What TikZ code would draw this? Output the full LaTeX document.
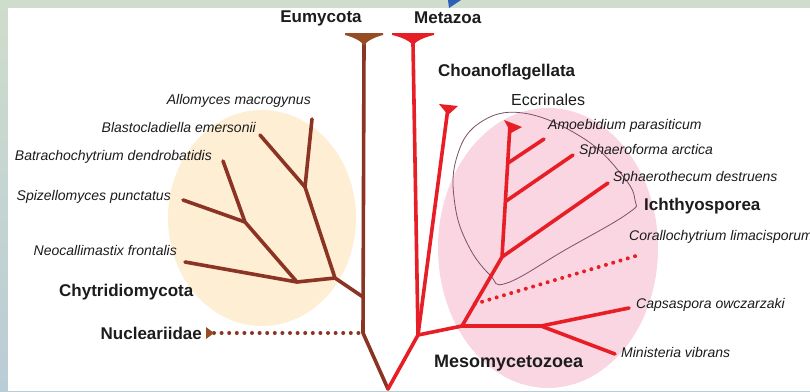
\documentclass[tikz,border=0pt]{standalone}
\usepackage{fontspec}
\setmainfont{Liberation Sans}
\usetikzlibrary{calc}

\definecolor{fungibrown}{RGB}{139,52,36}
\definecolor{headbrown}{RGB}{152,76,36}
\definecolor{holored}{RGB}{232,30,38}
\definecolor{chytfill}{RGB}{253,238,212}
\definecolor{mesofill}{RGB}{249,214,225}
\definecolor{ichthline}{RGB}{125,80,105}
\definecolor{labelgray}{RGB}{28,28,28}
\definecolor{frametop}{RGB}{207,221,204}
\definecolor{framebot}{RGB}{186,204,214}
\definecolor{slideblue}{RGB}{45,95,185}

\begin{document}
\begin{tikzpicture}[x=1pt, y=-1pt,
  fungi/.style={draw=fungibrown, line width=3.6pt, line cap=round, line join=round},
  holo/.style={draw=holored, line width=3.6pt, line cap=round, line join=round},
  dotline/.style={line width=4pt, line cap=round, dash pattern=on 0pt off 7.6pt},
  taxon/.style={font=\itshape\fontsize{14}{16}\selectfont, text=labelgray, inner sep=1pt},
  clade/.style={font=\bfseries\fontsize{17}{19}\selectfont, text=labelgray, inner sep=1pt}]
  \useasboundingbox (0,0) rectangle (810,391);
  \clip (0,0) rectangle (810,391);
  % slide frame
  \shade[top color=frametop, bottom color=framebot] (0,0) rectangle (810,391);
  \fill[white] (8,8) rectangle (810,391);
  \fill[slideblue] (448,0) -- (461,0) -- (449,8) -- cycle;
  % clade backgrounds
  \fill[chytfill] (262,218) ellipse [x radius=94, y radius=108];
  \fill[mesofill] (548,248) ellipse [x radius=110, y radius=140];
  \draw[ichthline, line width=0.8pt] plot[smooth cycle, tension=0.7] coordinates
    {(523,113) (583,138) (622,175) (635,200) (627,214) (565,250)
     (507,283) (490,275) (468,245) (455,205) (456,160) (478,124)};
  % fungal side
  \coordinate (root) at (388,389);
  \coordinate (q) at (363,333);
  \coordinate (eu) at (364,33);
  \coordinate (eutop) at (364,44);
  \coordinate (fj) at (363,297);
  \coordinate (a) at (335,278);
  \coordinate (b) at (305,187);
  \coordinate (c) at (297,282);
  \coordinate (d) at (245,222);
  \coordinate (allo) at (312,119);
  \coordinate (blast) at (260,135);
  \coordinate (batr) at (223,161);
  \coordinate (spiz) at (183,200);
  \coordinate (neoc) at (185,262);
  \coordinate (nuc) at (214,333);
  \draw[fungi] (root) -- (q) -- (eutop);
  \draw[fungi] (fj) -- (a) -- (b) -- (allo);
  \draw[fungi] (b) -- (blast);
  \draw[fungi] (a) -- (c) -- (neoc);
  \draw[fungi] (c) -- (d) -- (batr);
  \draw[fungi] (d) -- (spiz);
  \draw[fungibrown, dotline] (nuc) -- (q);
  \fill[headbrown] (eu) ++(-19,0) -- ++(38,0) -- ++(0,2) .. controls +(-8,2) and +(2,-5) .. ++(-19,11)
    .. controls +(-2,-5) and +(8,2) .. ++(-19,-11) -- cycle;
  \fill[headbrown] (nuc) ++(-8,-6) -- ++(0,12) -- ++(8,-6) -- cycle;
  % holozoan side
  \coordinate (j1) at (418,335);
  \coordinate (meta) at (413,33);
  \coordinate (metatop) at (413,44);
  \coordinate (choa) at (448,108);
  \coordinate (j2) at (462,326);
  \coordinate (j3) at (541,326);
  \coordinate (j4) at (502,257);
  \coordinate (ecc) at (510,125);
  \coordinate (k1) at ($(j4)!0.42!(ecc)$);
  \coordinate (k2) at ($(j4)!0.71!(ecc)$);
  \coordinate (amoe) at (544,139);
  \coordinate (sphf) at (573,155);
  \coordinate (spht) at (608,183);
  \coordinate (caps) at (629,308);
  \coordinate (mini) at (615,354);
  \coordinate (cor0) at ($(j2)!0.32!(j4)$);
  \coordinate (cor1) at (639,255);
  \draw[holo] (root) -- (j1) -- (metatop);
  \draw[holo] (j1) -- (choa);
  \draw[holo] (j1) -- (j2) -- (j3) -- (caps);
  \draw[holo] (j3) -- (mini);
  \draw[holo] (j2) -- (j4) -- (ecc);
  \draw[holo] (j4) -- (spht);
  \draw[holo] (k1) -- (sphf);
  \draw[holo] (k2) -- (amoe);
  \draw[holored, dotline] (cor0) -- (cor1);
  \fill[holored] (meta) ++(-21,0) -- ++(42,0) -- ++(0,2) .. controls +(-9,2) and +(2,-5) .. ++(-21,11)
    .. controls +(-2,-5) and +(9,2) .. ++(-21,-11) -- cycle;
  \fill[holored] (choa) ++(-9,-4) -- ++(19,2) -- ++(-10,9) -- cycle;
  \fill[holored] (ecc) ++(-6,-5) -- ++(18,7) -- ++(-11,6) -- cycle;
  % group labels
  \node[clade] (eumy) at (321,18) {Eumycota};
  \node[clade, anchor=west] (metz) at (413,18) {Metazoa};
  \node[clade, anchor=west] (choan) at (437,72) {Choanoflagellata};
  \node[clade, anchor=west] (chyt) at (58,292) {Chytridiomycota};
  \node[clade, anchor=east] (nucl) at (203,333) {Nucleariidae};
  \node[clade, anchor=west] (ichth) at (643,206) {Ichthyosporea};
  \node[clade, anchor=west, font=\bfseries\fontsize{18}{20}\selectfont] (meso) at (433,363) {Mesomycetozoea};
  \node[anchor=west, text=labelgray, font=\fontsize{16}{18}\selectfont, inner sep=1pt] (eccr) at (510,100) {Eccrinales};
  % species labels, fungal side
  \foreach \nm/\x/\y/\txt in {allol/312/101/Allomyces macrogynus,
      blastl/257/127/Blastocladiella emersonii,
      batrl/213/157/Batrachochytrium dendrobatidis,
      spizl/172/197/Spizellomyces punctatus,
      neocl/178/250/Neocallimastix frontalis}
    \node[taxon, anchor=east] (\nm) at (\x,\y) {\txt};
  % species labels, holozoan side
  \foreach \nm/\x/\y/\txt in {amoel/547/126/Amoebidium parasiticum,
      sphfl/578/151/Sphaeroforma arctica,
      sphtl/612/178/Sphaerothecum destruens,
      corl/628/237/Corallochytrium limacisporum,
      capsl/635/305/Capsaspora owczarzaki,
      minil/620/352/Ministeria vibrans}
    \node[taxon, anchor=west] (\nm) at (\x,\y) {\txt};
\end{tikzpicture}
\end{document}
